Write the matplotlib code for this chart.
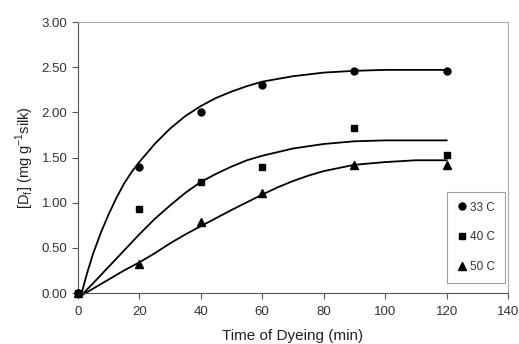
import matplotlib.pyplot as plt

plt.rcParams['font.family'] = ['Liberation Sans', 'DejaVu Sans']

# measured points
t_obs = [0, 20, 40, 60, 90, 120]
d33 = [0.00, 1.39, 2.00, 2.30, 2.46, 2.46]
d40 = [0.00, 0.93, 1.23, 1.39, 1.83, 1.53]
d50 = [0.00, 0.32, 0.79, 1.11, 1.42, 1.42]

# fitted curves
t_fit33 = [1, 3, 5, 7.5, 10, 12.5, 15, 17.5, 20, 25, 30, 35, 40, 45, 50, 55,
           60, 70, 80, 90, 100, 120]
fit33 = [-0.03, 0.22, 0.44, 0.67, 0.87, 1.05, 1.21, 1.34, 1.45, 1.65, 1.82,
         1.96, 2.07, 2.16, 2.23, 2.29, 2.34, 2.40, 2.44, 2.46, 2.47, 2.47]
t_fit40 = [1, 5, 10, 15, 20, 25, 30, 35, 40, 45, 50, 55, 60, 70, 80, 90, 100, 120]
fit40 = [-0.03, 0.11, 0.29, 0.47, 0.65, 0.82, 0.97, 1.11, 1.23, 1.32, 1.40,
         1.47, 1.52, 1.60, 1.65, 1.68, 1.69, 1.69]
t_fit50 = [1, 5, 10, 15, 20, 25, 30, 35, 40, 50, 60, 65, 70, 75, 80, 90, 100,
           110, 120]
fit50 = [-0.03, 0.05, 0.15, 0.25, 0.34, 0.44, 0.55, 0.65, 0.74, 0.92, 1.09,
         1.17, 1.24, 1.30, 1.35, 1.42, 1.45, 1.47, 1.47]

xticks = [0, 20, 40, 60, 80, 100, 120, 140]
yticks = [0.0, 0.5, 1.0, 1.5, 2.0, 2.5, 3.0]

fig = plt.figure(figsize=(5.19, 3.44), dpi=100)
ax = fig.add_axes([0.150, 0.148, 0.829, 0.788])

for tt, f in ((t_fit33, fit33), (t_fit40, fit40), (t_fit50, fit50)):
    ax.plot(tt, f, 'k-', lw=1.3, clip_on=False, zorder=2)

ax.plot(t_obs, d33, 'ko', ms=5, ls='none', label='33 C', clip_on=False, zorder=3)
ax.plot(t_obs, d50, 'k^', ms=5.5, ls='none', label='50 C', clip_on=False, zorder=3)
ax.plot(t_obs, d40, 'ks', ms=5, ls='none', label='40 C', clip_on=False, zorder=4)

ax.set_xlim(0, 140)
ax.set_ylim(0, 3)
ax.set_xticks(xticks)
ax.set_yticks(yticks)
ax.set_yticklabels(['%.2f' % v for v in yticks])
ax.tick_params(direction='out', length=4, width=0.8, colors='#555555',
               labelcolor='#333333', labelsize=9.5)
ax.tick_params(axis='x', pad=5.5)

for s in ('left', 'bottom'):
    ax.spines[s].set_color('#555555')
for s in ('top', 'right'):
    ax.spines[s].set_color('#aaaaaa')

ax.set_xlabel('Time of Dyeing (min)', fontsize=11, color='#222222', labelpad=7.5)
ax.set_ylabel(r'[D$_\mathregular{f}$] (mg g$^\mathregular{-1}$silk)', fontsize=10.5,
              color='#222222', labelpad=4)

h, l = ax.get_legend_handles_labels()
order = [0, 2, 1]
leg = ax.legend([h[i] for i in order], [l[i] for i in order],
                loc='lower right', bbox_to_anchor=(0.993, 0.037),
                fontsize=8.5, frameon=True, fancybox=False, edgecolor='#888888',
                labelspacing=1.5, borderpad=0.85, handletextpad=0.3,
                handlelength=0.8, borderaxespad=0)
leg.get_frame().set_linewidth(0.8)
for t in leg.get_texts():
    t.set_color('#333333')

fig.savefig('out.png', dpi=100)
